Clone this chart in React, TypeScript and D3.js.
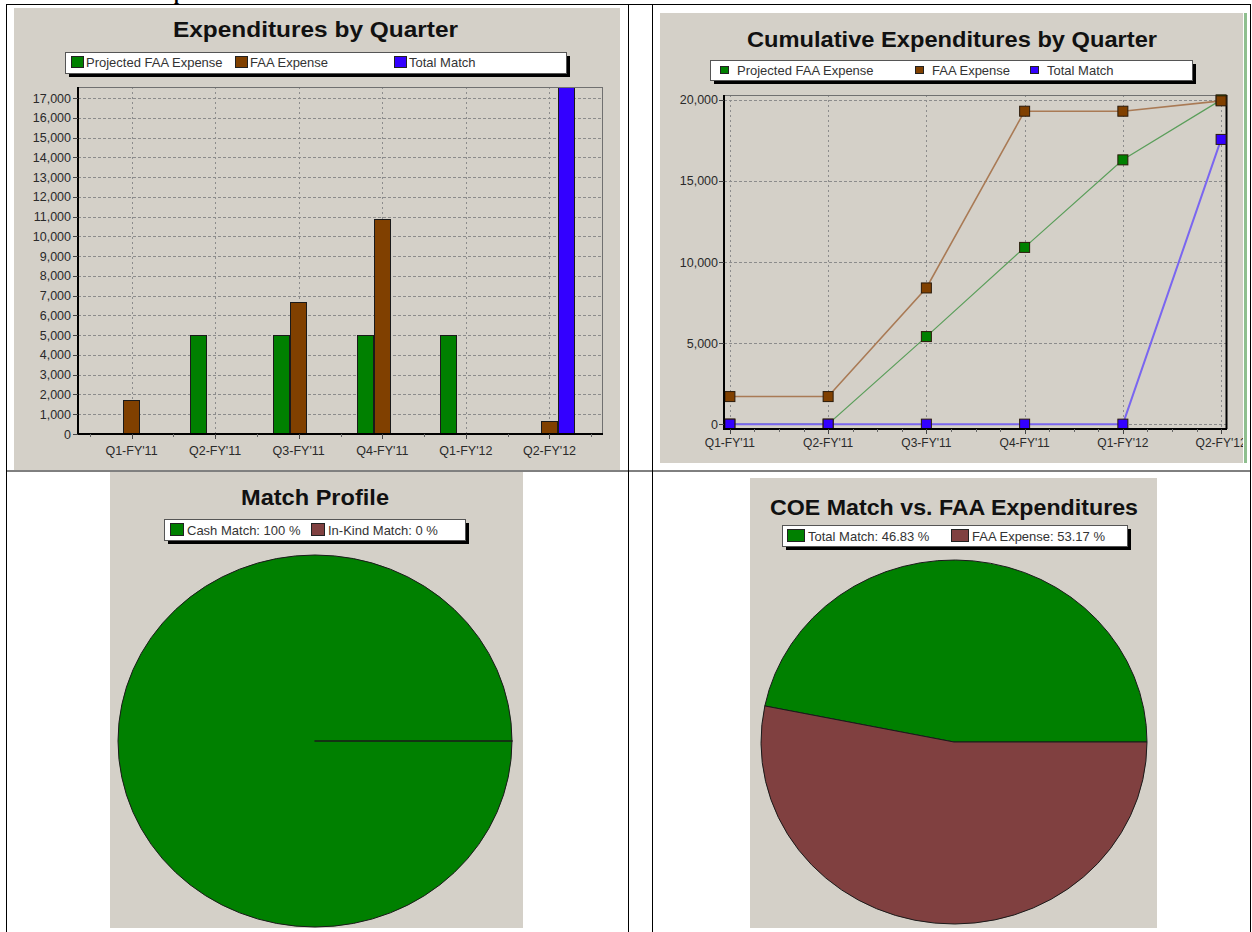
import React from 'react';
import * as d3 from 'd3';

// ---------- data ----------
const quarters = ["Q1-FY'11", "Q2-FY'11", "Q3-FY'11", "Q4-FY'11", "Q1-FY'12", "Q2-FY'12"];
const seriesNames = ['Projected FAA Expense', 'FAA Expense', 'Total Match'];
const projectedQuarterly = [0, 5000, 5000, 5000, 5000, 0];
const faaQuarterly = [1700, 0, 6700, 10900, 0, 640];
const matchQuarterly = [0, 0, 0, 0, 0, 17560];
const barTicks = [0, 1000, 2000, 3000, 4000, 5000, 6000, 7000, 8000, 9000, 10000, 11000, 12000, 13000, 14000, 15000, 16000, 17000];

const projectedCumulative = [0, 0, 5400, 10900, 16300, 20000];
const faaCumulative = [1700, 1700, 8400, 19300, 19300, 19940];
const matchCumulative = [0, 0, 0, 0, 0, 17560];
const cumTicks = [0, 5000, 10000, 15000, 20000];

const profileLabels = ['Cash Match', 'In-Kind Match'];
const profileValues = [17560, 0];
const coeLabels = ['Total Match', 'FAA Expense'];
const coeValues = [17560, 19940];

const titles = ['Expenditures by Quarter', 'Cumulative Expenditures by Quarter', 'Match Profile', 'COE Match vs. FAA Expenditures'];

// ---------- styles ----------
const FONT = "'Liberation Sans', Arial, sans-serif";
const BG = '#d4d0c8';
const seriesColors = ['#008000', '#804000', '#3300ff'];
const lineColors = ['#5a9e5a', '#a97a55', '#7a66f0'];
const pieColors = ['#008000', '#804040'];
const GRID = '#8c8c8c';

const fmt = d3.format(',');
const pct = (v: number, tot: number) => String(+((v / tot) * 100).toFixed(2));

function LegendBox({ x, y, w, h }: { x: number; y: number; w: number; h: number }) {
  return (
    <g>
      <rect x={x + 4} y={y + 4} width={w} height={h} fill="#000" />
      <rect x={x + 0.5} y={y + 0.5} width={w} height={h} fill="#fff" stroke="#555" />
    </g>
  );
}

function BarChart() {
  const L = 78, R = 603, T = 87, B = 434;
  const x = d3.scalePoint<string>().domain(quarters).range([L, R]).padding(0.64);
  const y = d3.scaleLinear().domain([0, d3.max(matchQuarterly) as number]).range([B, T]);
  const inner = d3.scaleBand<string>().domain(seriesNames).range([-25.5, 25.5]);
  const series = [projectedQuarterly, faaQuarterly, matchQuarterly];
  const step = x.step();
  const minor: number[] = [];
  quarters.forEach((q) => {
    const c = x(q) as number;
    [c - step / 2, c + step / 2].forEach((m) => {
      if (m > L && m < R && !minor.includes(Math.round(m))) minor.push(Math.round(m));
    });
  });
  const legendX = [71, 235, 394];
  return (
    <g>
      <rect x={14} y={8} width={606} height={462} fill={BG} />
      <text x={315.5} y={37} textAnchor="middle" fontFamily={FONT} fontWeight="bold" fontSize={22} fill="#111" textLength={285} lengthAdjust="spacingAndGlyphs">{titles[0]}</text>
      <LegendBox x={65} y={52} w={501} h={21} />
      {seriesNames.map((s, i) => (
        <g key={s}>
          <rect x={legendX[i] + 0.5} y={56.5} width={12} height={11} fill={seriesColors[i]} stroke="#222" />
          <text x={legendX[i] + 15} y={67} fontFamily={FONT} fontSize={13} fill="#333">{s}</text>
        </g>
      ))}
      <defs>
        <clipPath id="barclip"><rect x={L} y={T} width={R - L} height={B - T} /></clipPath>
      </defs>
      {barTicks.slice(1).map((t) => (
        <line key={t} x1={L} x2={R} y1={Math.round(y(t)) + 0.5} y2={Math.round(y(t)) + 0.5} stroke={GRID} strokeDasharray="3,2" />
      ))}
      {quarters.map((q) => (
        <line key={q} x1={Math.round(x(q) as number) + 0.5} x2={Math.round(x(q) as number) + 0.5} y1={T} y2={B} stroke={GRID} strokeDasharray="2,3" />
      ))}
      <g clipPath="url(#barclip)">
        {series.map((vals, si) =>
          vals.map((v, qi) =>
            v > 0 ? (
              <rect key={`${si}-${qi}`} x={Math.round((x(quarters[qi]) as number) + (inner(seriesNames[si]) as number)) + 0.5} y={Math.round(y(v)) + 0.5} width={inner.bandwidth() - 1} height={B - Math.round(y(v))} fill={seriesColors[si]} stroke="#1a1a1a" />
            ) : null
          )
        )}
      </g>
      <line x1={L} x2={R} y1={T + 0.5} y2={T + 0.5} stroke="#707070" />
      <line x1={R - 0.5} x2={R - 0.5} y1={T} y2={B} stroke="#707070" />
      <line x1={L} x2={L} y1={T} y2={B + 1} stroke="#000" strokeWidth={2} />
      <line x1={L - 1} x2={R} y1={B} y2={B} stroke="#000" strokeWidth={2} />
      {barTicks.map((t) => (
        <g key={t}>
          <line x1={L - 5} x2={L} y1={Math.round(y(t)) + 0.5} y2={Math.round(y(t)) + 0.5} stroke="#444" />
          <text x={71} y={y(t) + 4.5} textAnchor="end" fontFamily={FONT} fontSize={12.5} fill="#2a2a2a">{fmt(t)}</text>
        </g>
      ))}
      {quarters.map((q) => (
        <g key={q}>
          <line x1={Math.round(x(q) as number) + 0.5} x2={Math.round(x(q) as number) + 0.5} y1={B} y2={B + 5} stroke="#444" />
          <text x={x(q) as number} y={455} textAnchor="middle" fontFamily={FONT} fontSize={12.5} fill="#2a2a2a">{q}</text>
        </g>
      ))}
      {minor.map((m) => (
        <line key={m} x1={m + 0.5} x2={m + 0.5} y1={B} y2={B + 3} stroke="#666" />
      ))}
    </g>
  );
}

function CumChart() {
  const L = 724, R = 1227, T = 95, B = 429;
  const x = d3.scalePoint<string>().domain(quarters).range([L, R]).padding(0.06);
  const y = d3.scaleLinear().domain([-300, 20300]).range([B, T]);
  const series = [projectedCumulative, faaCumulative, matchCumulative];
  const line = d3.line<number>().x((_, i) => x(quarters[i]) as number).y((v) => y(v));
  const step = x.step();
  const minor: number[] = [];
  quarters.forEach((q, i) => {
    if (i < quarters.length - 1) {
      const c = x(q) as number;
      [0.25, 0.5, 0.75].forEach((f) => minor.push(Math.round(c + f * step)));
    }
  });
  const legendX = [720, 915, 1030];
  return (
    <g>
      <defs>
        <clipPath id="cumimg"><rect x={660} y={13} width={583} height={450} /></clipPath>
      </defs>
      <rect x={660} y={13} width={583} height={450} fill={BG} />
      <rect x={1244} y={13} width={3} height={450} fill="#8fbf8f" />
      <g clipPath="url(#cumimg)">
        <text x={952} y={47} textAnchor="middle" fontFamily={FONT} fontWeight="bold" fontSize={22} fill="#111" textLength={410} lengthAdjust="spacingAndGlyphs">{titles[1]}</text>
        <LegendBox x={710} y={60} w={482} h={20} />
        {seriesNames.map((s, i) => (
          <g key={s}>
            <rect x={legendX[i] + 0.5} y={66.5} width={8} height={7} fill={seriesColors[i]} stroke="#222" />
            <text x={legendX[i] + 17} y={74.5} fontFamily={FONT} fontSize={13} fill="#333">{s}</text>
          </g>
        ))}
        {cumTicks.map((t) => (
          <line key={t} x1={L} x2={R} y1={Math.round(y(t)) + 0.5} y2={Math.round(y(t)) + 0.5} stroke={GRID} strokeDasharray="3,2" />
        ))}
        {quarters.map((q) => (
          <line key={q} x1={Math.round(x(q) as number) + 0.5} x2={Math.round(x(q) as number) + 0.5} y1={T} y2={B} stroke={GRID} strokeDasharray="2,3" />
        ))}
        <line x1={L} x2={R} y1={T + 0.5} y2={T + 0.5} stroke="#707070" />
        <line x1={R - 0.5} x2={R - 0.5} y1={T} y2={B} stroke="#000" strokeWidth={2} />
        {series.map((vals, si) => (
          <path key={si} d={line(vals) as string} fill="none" stroke={lineColors[si]} strokeWidth={si === 0 ? 1.2 : si === 1 ? 1.6 : 2} />
        ))}
        {series.map((vals, si) =>
          vals.map((v, qi) => (
            <rect key={`${si}-${qi}`} x={(x(quarters[qi]) as number) - 5} y={y(v) - 5} width={10} height={10} fill={seriesColors[si]} stroke="#2a1a0a" strokeWidth={1} />
          ))
        )}
        <line x1={L} x2={L} y1={T} y2={B + 1} stroke="#000" strokeWidth={2} />
        <line x1={L - 1} x2={R} y1={B} y2={B} stroke="#000" strokeWidth={2} />
        {cumTicks.map((t) => (
          <g key={t}>
            <line x1={L - 5} x2={L} y1={Math.round(y(t)) + 0.5} y2={Math.round(y(t)) + 0.5} stroke="#444" />
            <text x={718} y={y(t) + 4.5} textAnchor="end" fontFamily={FONT} fontSize={12.5} fill="#2a2a2a">{fmt(t)}</text>
          </g>
        ))}
        {quarters.map((q) => (
          <g key={q}>
            <line x1={Math.round(x(q) as number) + 0.5} x2={Math.round(x(q) as number) + 0.5} y1={B} y2={B + 5} stroke="#444" />
            <text x={x(q) as number} y={447} textAnchor="middle" fontFamily={FONT} fontSize={12} fill="#2a2a2a">{q}</text>
          </g>
        ))}
        {minor.map((m) => (
          <line key={m} x1={m + 0.5} x2={m + 0.5} y1={B} y2={B + 3} stroke="#666" />
        ))}
      </g>
    </g>
  );
}

function PieChart({ img, title, titleY, titleW, legend, labels, values, cx, cy, rx, ry }: any) {
  const total = d3.sum(values as number[]);
  const pie = d3.pie<number>().sort(null).startAngle(Math.PI / 2).endAngle(Math.PI / 2 - 2 * Math.PI);
  const arcs = pie(values);
  const arc = d3.arc<d3.PieArcDatum<number>>().innerRadius(0).outerRadius(rx);
  return (
    <g>
      <rect x={img.x} y={img.y} width={img.w} height={img.h} fill={BG} />
      <text x={cx} y={titleY} textAnchor="middle" fontFamily={FONT} fontWeight="bold" fontSize={22} fill="#111" textLength={titleW} lengthAdjust="spacingAndGlyphs">{title}</text>
      <LegendBox x={legend.x} y={legend.y} w={legend.w} h={legend.h} />
      {labels.map((l: string, i: number) => (
        <g key={l}>
          <rect x={legend.items[i] + 0.5} y={legend.y + 4.5} width={legend.sw} height={legend.h - 9} fill={pieColors[i]} stroke="#222" />
          <text x={legend.items[i] + legend.sw + 4} y={legend.y + legend.h - 5.5} fontFamily={FONT} fontSize={13} fill="#333">{`${l}: ${pct(values[i], total)} %`}</text>
        </g>
      ))}
      <g transform={`translate(${cx},${cy}) scale(1,${ry / rx})`}>
        {arcs.map((a, i) => (
          <path key={i} d={arc(a) as string} fill={pieColors[i]} stroke="#1a1a1a" strokeWidth={a.value === 0 ? 1.6 : 1} vectorEffect="non-scaling-stroke" strokeLinejoin="round" />
        ))}
      </g>
    </g>
  );
}

export default function App() {
  return (
    <svg width={1252} height={932} style={{ position: 'absolute', left: 0, top: 0, background: '#fff' }}>
      <text x={174} y={0} fontFamily="'Liberation Serif', serif" fontWeight="bold" fontSize={18} fill="#000">p</text>
      <BarChart />
      <CumChart />
      <PieChart
        img={{ x: 110, y: 472, w: 413, h: 456 }}
        title={titles[2]} titleY={505} titleW={148}
        legend={{ x: 164, y: 519, w: 301, h: 21, items: [170, 311], sw: 13 }}
        labels={profileLabels} values={profileValues}
        cx={315} cy={741} rx={197} ry={186}
      />
      <PieChart
        img={{ x: 750, y: 478, w: 407, h: 450 }}
        title={titles[3]} titleY={515} titleW={368}
        legend={{ x: 782, y: 525, w: 345, h: 21, items: [787, 951], sw: 17 }}
        labels={coeLabels} values={coeValues}
        cx={954} cy={742} rx={193} ry={182}
      />
      {/* table borders */}
      <line x1={6} x2={1251} y1={4.5} y2={4.5} stroke="#000" />
      <line x1={6} x2={1251} y1={471} y2={471} stroke="#000" />
      <line x1={6.5} x2={6.5} y1={4} y2={932} stroke="#000" />
      <line x1={628.5} x2={628.5} y1={4} y2={932} stroke="#000" />
      <line x1={652.5} x2={652.5} y1={4} y2={932} stroke="#000" />
      <line x1={1250.5} x2={1250.5} y1={4} y2={932} stroke="#000" />
    </svg>
  );
}
